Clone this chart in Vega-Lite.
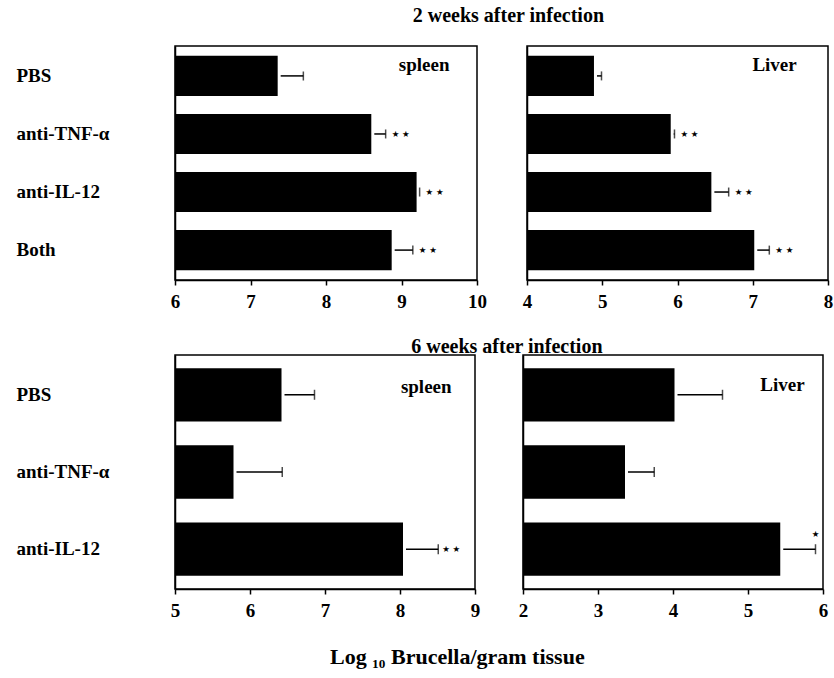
{
  "$schema": "https://vega.github.io/schema/vega-lite/v6.json",
  "background": "white",
  "padding": {"left": 15, "top": 6, "right": 2, "bottom": 5},
  "datasets": {
    "d": [
      {"week": 2, "organ": "spleen", "group": "PBS", "value": 7.36, "hi": 7.70, "stars": 0},
      {"week": 2, "organ": "spleen", "group": "anti-TNF-α", "value": 8.60, "hi": 8.79, "stars": 2},
      {"week": 2, "organ": "spleen", "group": "anti-IL-12", "value": 9.20, "hi": 9.24, "stars": 2},
      {"week": 2, "organ": "spleen", "group": "Both", "value": 8.87, "hi": 9.15, "stars": 2},
      {"week": 2, "organ": "liver", "group": "PBS", "value": 4.89, "hi": 4.99, "stars": 0},
      {"week": 2, "organ": "liver", "group": "anti-TNF-α", "value": 5.91, "hi": 5.96, "stars": 2},
      {"week": 2, "organ": "liver", "group": "anti-IL-12", "value": 6.45, "hi": 6.68, "stars": 2},
      {"week": 2, "organ": "liver", "group": "Both", "value": 7.02, "hi": 7.22, "stars": 2},
      {"week": 6, "organ": "spleen", "group": "PBS", "value": 6.42, "hi": 6.86, "stars": 0},
      {"week": 6, "organ": "spleen", "group": "anti-TNF-α", "value": 5.78, "hi": 6.43, "stars": 0},
      {"week": 6, "organ": "spleen", "group": "anti-IL-12", "value": 8.04, "hi": 8.51, "stars": 2},
      {"week": 6, "organ": "liver", "group": "PBS", "value": 4.02, "hi": 4.66, "stars": 0},
      {"week": 6, "organ": "liver", "group": "anti-TNF-α", "value": 3.36, "hi": 3.75, "stars": 0},
      {"week": 6, "organ": "liver", "group": "anti-IL-12", "value": 5.43, "hi": 5.90, "stars": 1}
    ]
  },
  "title": {"text": "Log ₁₀ Brucella/gram tissue", "orient": "bottom", "anchor": "middle", "offset": 26, "dx": 33, "fontSize": 22, "font": "Liberation Serif", "fontWeight": "bold", "color": "black"},
  "spacing": 25,
  "vconcat": [
    {
      "title": {"text": "2 weeks after infection", "offset": 19, "fontSize": 20, "dx": 84},
      "spacing": 33,
      "hconcat": [
        {
          "width": 302, "height": 234,
          "data": {"name": "d"},
          "transform": [{"filter": "datum.week == 2 && datum.organ == 'spleen'"}],
          "encoding": {
            "y": {"field": "group", "type": "nominal", "sort": ["PBS", "anti-TNF-α", "anti-IL-12", "Both"], "scale": {"paddingInner": 0.31, "paddingOuter": 0.17}, "axis": {"title": null, "labelAlign": "left", "labelPadding": 159, "ticks": false}}
          },
          "layer": [
            {"mark": {"type": "bar", "color": "black"}, "encoding": {"x": {"field": "value", "type": "quantitative", "scale": {"domain": [6, 10], "nice": false, "zero": false}, "axis": {"title": null, "values": [6, 7, 8, 9, 10], "format": "d"}}, "x2": {"datum": 6}}},
            {"mark": {"type": "rule", "color": "black", "strokeWidth": 1.5, "xOffset": 3}, "encoding": {"x": {"field": "value", "type": "quantitative"}, "x2": {"field": "hi"}}},
            {"mark": {"type": "tick", "color": "black", "thickness": 1.5, "size": 9}, "encoding": {"x": {"field": "hi", "type": "quantitative"}}},
            {"transform": [{"filter": "datum.stars == 2"}], "mark": {"type": "text", "align": "left", "baseline": "middle", "dx": 6, "font": "DejaVu Sans", "fontSize": 8.5, "color": "black"}, "encoding": {"x": {"field": "hi", "type": "quantitative"}, "text": {"value": "★  ★"}}},
            {"transform": [{"filter": "datum.group == 'PBS'"}], "mark": {"type": "text", "align": "center", "baseline": "middle", "dy": -11, "fontSize": 19, "fontWeight": "bold", "font": "Liberation Serif", "color": "black"}, "encoding": {"x": {"datum": 9.3}, "text": {"value": "spleen"}}}
          ]
        },
        {
          "width": 301, "height": 234,
          "data": {"name": "d"},
          "transform": [{"filter": "datum.week == 2 && datum.organ == 'liver'"}],
          "encoding": {
            "y": {"field": "group", "type": "nominal", "sort": ["PBS", "anti-TNF-α", "anti-IL-12", "Both"], "scale": {"paddingInner": 0.31, "paddingOuter": 0.17}, "axis": {"title": null, "labels": false, "ticks": false}}
          },
          "layer": [
            {"mark": {"type": "bar", "color": "black"}, "encoding": {"x": {"field": "value", "type": "quantitative", "scale": {"domain": [4, 8], "nice": false, "zero": false}, "axis": {"title": null, "values": [4, 5, 6, 7, 8], "format": "d"}}, "x2": {"datum": 4}}},
            {"mark": {"type": "rule", "color": "black", "strokeWidth": 1.5, "xOffset": 3}, "encoding": {"x": {"field": "value", "type": "quantitative"}, "x2": {"field": "hi"}}},
            {"mark": {"type": "tick", "color": "black", "thickness": 1.5, "size": 9}, "encoding": {"x": {"field": "hi", "type": "quantitative"}}},
            {"transform": [{"filter": "datum.stars == 2"}], "mark": {"type": "text", "align": "left", "baseline": "middle", "dx": 6, "font": "DejaVu Sans", "fontSize": 8.5, "color": "black"}, "encoding": {"x": {"field": "hi", "type": "quantitative"}, "text": {"value": "★  ★"}}},
            {"transform": [{"filter": "datum.group == 'PBS'"}], "mark": {"type": "text", "align": "center", "baseline": "middle", "dy": -11, "fontSize": 19, "fontWeight": "bold", "font": "Liberation Serif", "color": "black"}, "encoding": {"x": {"datum": 7.29}, "text": {"value": "Liver"}}}
          ]
        }
      ]
    },
    {
      "title": {"text": "6 weeks after infection", "offset": -3, "fontSize": 20, "dx": 85},
      "spacing": 36,
      "hconcat": [
        {
          "width": 300, "height": 234,
          "data": {"name": "d"},
          "transform": [{"filter": "datum.week == 6 && datum.organ == 'spleen'"}],
          "encoding": {
            "y": {"field": "group", "type": "nominal", "sort": ["PBS", "anti-TNF-α", "anti-IL-12", "Both"], "scale": {"paddingInner": 0.31, "paddingOuter": 0.17}, "axis": {"title": null, "labelAlign": "left", "labelPadding": 159, "ticks": false}}
          },
          "layer": [
            {"mark": {"type": "bar", "color": "black"}, "encoding": {"x": {"field": "value", "type": "quantitative", "scale": {"domain": [5, 9], "nice": false, "zero": false}, "axis": {"title": null, "values": [5, 6, 7, 8, 9], "format": "d"}}, "x2": {"datum": 5}}},
            {"mark": {"type": "rule", "color": "black", "strokeWidth": 1.5, "xOffset": 3}, "encoding": {"x": {"field": "value", "type": "quantitative"}, "x2": {"field": "hi"}}},
            {"mark": {"type": "tick", "color": "black", "thickness": 1.5, "size": 10}, "encoding": {"x": {"field": "hi", "type": "quantitative"}}},
            {"transform": [{"filter": "datum.stars == 2"}], "mark": {"type": "text", "align": "left", "baseline": "middle", "dx": 4, "font": "DejaVu Sans", "fontSize": 8.5, "color": "black"}, "encoding": {"x": {"field": "hi", "type": "quantitative"}, "text": {"value": "★  ★"}}},
            {"transform": [{"filter": "datum.group == 'PBS'"}], "mark": {"type": "text", "align": "center", "baseline": "middle", "dy": -8, "fontSize": 19, "fontWeight": "bold", "font": "Liberation Serif", "color": "black"}, "encoding": {"x": {"datum": 8.35}, "text": {"value": "spleen"}}}
          ]
        },
        {
          "width": 300, "height": 234,
          "data": {"name": "d"},
          "transform": [{"filter": "datum.week == 6 && datum.organ == 'liver'"}],
          "encoding": {
            "y": {"field": "group", "type": "nominal", "sort": ["PBS", "anti-TNF-α", "anti-IL-12", "Both"], "scale": {"paddingInner": 0.31, "paddingOuter": 0.17}, "axis": {"title": null, "labels": false, "ticks": false}}
          },
          "layer": [
            {"mark": {"type": "bar", "color": "black"}, "encoding": {"x": {"field": "value", "type": "quantitative", "scale": {"domain": [2, 6], "nice": false, "zero": false}, "axis": {"title": null, "values": [2, 3, 4, 5, 6], "format": "d"}}, "x2": {"datum": 2}}},
            {"mark": {"type": "rule", "color": "black", "strokeWidth": 1.5, "xOffset": 3}, "encoding": {"x": {"field": "value", "type": "quantitative"}, "x2": {"field": "hi"}}},
            {"mark": {"type": "tick", "color": "black", "thickness": 1.5, "size": 10}, "encoding": {"x": {"field": "hi", "type": "quantitative"}}},
            {"transform": [{"filter": "datum.stars == 1"}], "mark": {"type": "text", "align": "center", "baseline": "middle", "dy": -15, "font": "DejaVu Sans", "fontSize": 8.5, "color": "black"}, "encoding": {"x": {"field": "hi", "type": "quantitative"}, "text": {"value": "★"}}},
            {"transform": [{"filter": "datum.group == 'PBS'"}], "mark": {"type": "text", "align": "center", "baseline": "middle", "dy": -10, "fontSize": 19, "fontWeight": "bold", "font": "Liberation Serif", "color": "black"}, "encoding": {"x": {"datum": 5.46}, "text": {"value": "Liver"}}}
          ]
        }
      ]
    }
  ],
  "config": {
    "font": "Liberation Serif",
    "view": {"stroke": "black", "strokeWidth": 1.5},
    "title": {"font": "Liberation Serif", "fontSize": 20, "fontWeight": "bold", "color": "black", "anchor": "middle", "baseline": "bottom"},
    "axis": {"grid": false, "labelFont": "Liberation Serif", "labelFontWeight": "bold", "labelFontSize": 19, "labelColor": "black", "domainColor": "black", "domainWidth": 1.5, "tickColor": "black", "tickWidth": 1.5, "tickSize": 5, "labelOverlap": false, "labelFlush": false},
    "axisX": {"labelPadding": 7}
  }
}
